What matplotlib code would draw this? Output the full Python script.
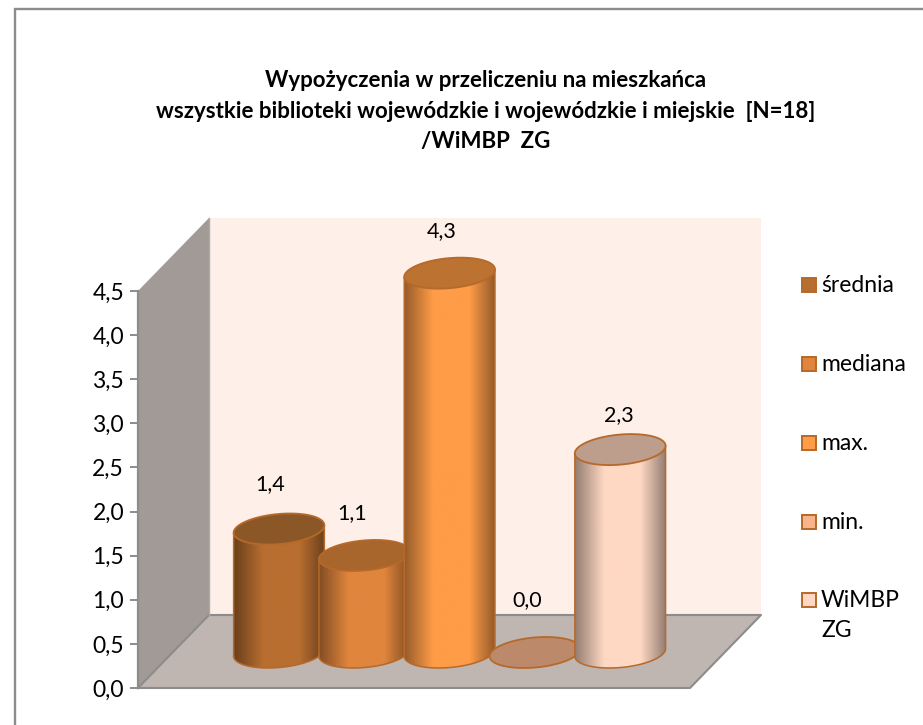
import numpy as np
import matplotlib
matplotlib.use('Agg')
import matplotlib.pyplot as plt
from matplotlib.patches import Polygon, PathPatch, Rectangle
from matplotlib.path import Path
from matplotlib.colors import LinearSegmentedColormap, to_rgb

plt.rcParams['font.family'] = ['Lato', 'DejaVu Sans']

# Dane
kategorie = ['średnia', 'mediana', 'max.', 'min.', 'WiMBP\nZG']
wartosci = [1.4, 1.1, 4.3, 0.0, 2.3]
etykiety = ['1,4', '1,1', '4,3', '0,0', '2,3']
ticks = [0.0, 0.5, 1.0, 1.5, 2.0, 2.5, 3.0, 3.5, 4.0, 4.5]
tick_labels = ['0,0', '0,5', '1,0', '1,5', '2,0', '2,5', '3,0', '3,5', '4,0', '4,5']
tytul = ('Wypożyczenia w przeliczeniu na mieszkańca\n'
         'wszystkie biblioteki wojewódzkie i wojewódzkie i miejskie  [N=18]\n'
         '/WiMBP  ZG')

kolory = ['#B86E30', '#E0853D', '#FF9C47', '#F9B48C', '#FFD8C3']
kolory_gora = ['#8B5726', '#A8652C', '#BC7231', '#BC8A6A', '#BD9D8B']
obrys = '#B5692B'

W, H = 923, 725
fig = plt.figure(figsize=(W / 100, H / 100), dpi=100)

# ramka wykresu (wychodzi poza prawa i dolna krawedz)
fig.add_artist(Rectangle((15 / W, -0.1), 1.2, 1.1 - 9 / H, transform=fig.transFigure,
                         fill=False, ec='#8C8C8C', lw=1.7))

# osie = przednia plaszczyzna wykresu
x0, x1, y_dol, y_gora = 138, 690, 688, 291
ax = fig.add_axes([x0 / W, 1 - y_dol / H, (x1 - x0) / W, (y_dol - y_gora) / H])
ax.patch.set_visible(False)
px_x = 85.3   # pikseli na kategorie
px_y = (y_dol - y_gora) / 4.5
xlim = (-(243.5 - x0) / px_x, (x1 - 243.5) / px_x)
ax.set_xlim(xlim)
ax.set_ylim(0, 4.5)
glebx, gleby = 71 / px_x, 73 / px_y

for s in ['top', 'right', 'bottom']:
    ax.spines[s].set_visible(False)
ax.spines['left'].set_color('#8C8C8C')
ax.spines['left'].set_linewidth(1.6)
ax.set_xticks([])
ax.set_yticks(ticks)
ax.set_yticklabels(tick_labels, fontsize=16.5, color='black')
ax.tick_params(axis='y', length=6, width=1.4, color='#8C8C8C', pad=4)

# sciany i podloga
l, r = xlim
ax.add_patch(Polygon([(l, 4.5), (l + glebx, 4.5 + gleby), (r + glebx, 4.5 + gleby),
                      (r + glebx, gleby), (l + glebx, gleby)],
                     closed=True, fc='#FEEFE8', ec='none', clip_on=False, zorder=1))
ax.add_patch(Polygon([(l, 4.5), (l + glebx, 4.5 + gleby), (l + glebx, gleby), (l, 0)],
                     closed=True, fc='#A29A96', ec='none', clip_on=False, zorder=2))
ax.add_patch(Polygon([(l, 0), (r, 0), (r + glebx, gleby), (l + glebx, gleby)],
                     closed=True, fc='#BFB5B1', ec='none', clip_on=False, zorder=2))
ax.plot([l, r, r + glebx, l + glebx, l], [0, 0, gleby, gleby, 0], color='#8C8C8C', lw=1.5,
        clip_on=False, zorder=2.5)
ax.plot([l + glebx, l + glebx], [gleby, 4.5 + gleby], color='#B0A8A4', lw=1, clip_on=False, zorder=2.5)

# walce
A, B, C = 44 / px_x, 11 / px_x, 15.5 / px_y
t = np.linspace(0, 2 * np.pi, 121)
t_lewy = np.pi + np.arctan2(B, A)


def elipsa(cx, cy, tt):
    return cx + A * np.cos(tt) + B * np.sin(tt), cy + C * np.sin(tt)


for i, v in enumerate(wartosci):
    z = 5 + i * 2
    cx = i + glebx / 2
    cy = gleby / 2 - 1 / px_y
    kol = np.array(to_rgb(kolory[i]))
    if v > 0:
        # dolna polowka elipsy + boki walca
        tt = np.linspace(t_lewy, t_lewy + np.pi, 60)
        ex, ey = elipsa(cx, cy, tt)
        xs = np.r_[ex, ex[-1], ex[0]]
        ys = np.r_[ey, ey[-1] + v, ey[0] + v]
        body = PathPatch(Path(np.c_[xs, ys], closed=False), fc='none', ec='none',
                         clip_on=False, zorder=z)
        ax.add_patch(body)
        cmap = LinearSegmentedColormap.from_list('c', [
            (0.0, kol * 0.58), (0.32, kol), (0.72, kol), (1.0, kol * 0.58)])
        im = ax.imshow(np.linspace(0, 1, 256)[None, :], cmap=cmap, aspect='auto',
                       extent=(xs.min(), xs.max(), 0, ys.max() + 0.1),
                       zorder=z)
        im.set_clip_path(body)
        im.set_clip_box(fig.bbox)
        ax.plot(xs.tolist() + [xs[0]], ys.tolist() + [ys[0]], color=obrys, lw=1.1,
                clip_on=False, zorder=z + 0.5)
    ex, ey = elipsa(cx, cy + v, t)
    ax.fill(ex, ey, fc=kolory_gora[i], ec=obrys, lw=1.3, clip_on=False, zorder=z + 1)

ax.set_xlim(xlim)
ax.set_ylim(0, 4.5)

# etykiety wartosci
etyk_x = [270, 352, 442, 527, 619]
etyk_y = [484, 513, 231, 600, 415]
for i, e in enumerate(etykiety):
    fig.text(etyk_x[i] / W, 1 - etyk_y[i] / H, e, fontsize=15.5, ha='center', va='center',
             color='black')

# legenda
leg_y = [285, 364, 443, 522, 600]
for i, k in enumerate(kategorie):
    fig.add_artist(Rectangle((802 / W, 1 - (leg_y[i] + 7) / H), 14 / W, 14 / H,
                             transform=fig.transFigure, fc=kolory[i], ec=obrys, lw=1.4))
    for j, linia in enumerate(k.split('\n')):
        fig.text(821 / W, 1 - (leg_y[i] + 7 + j * 30) / H, linia, fontsize=16.5, ha='left',
                 va='baseline', color='black')

# tytul
fig.text(486 / W, 1 - 111 / H, tytul, fontsize=16, fontweight='bold', ha='center',
         va='center', color='black', linespacing=1.55)

fig.savefig('out.png', dpi=100, facecolor='white')
